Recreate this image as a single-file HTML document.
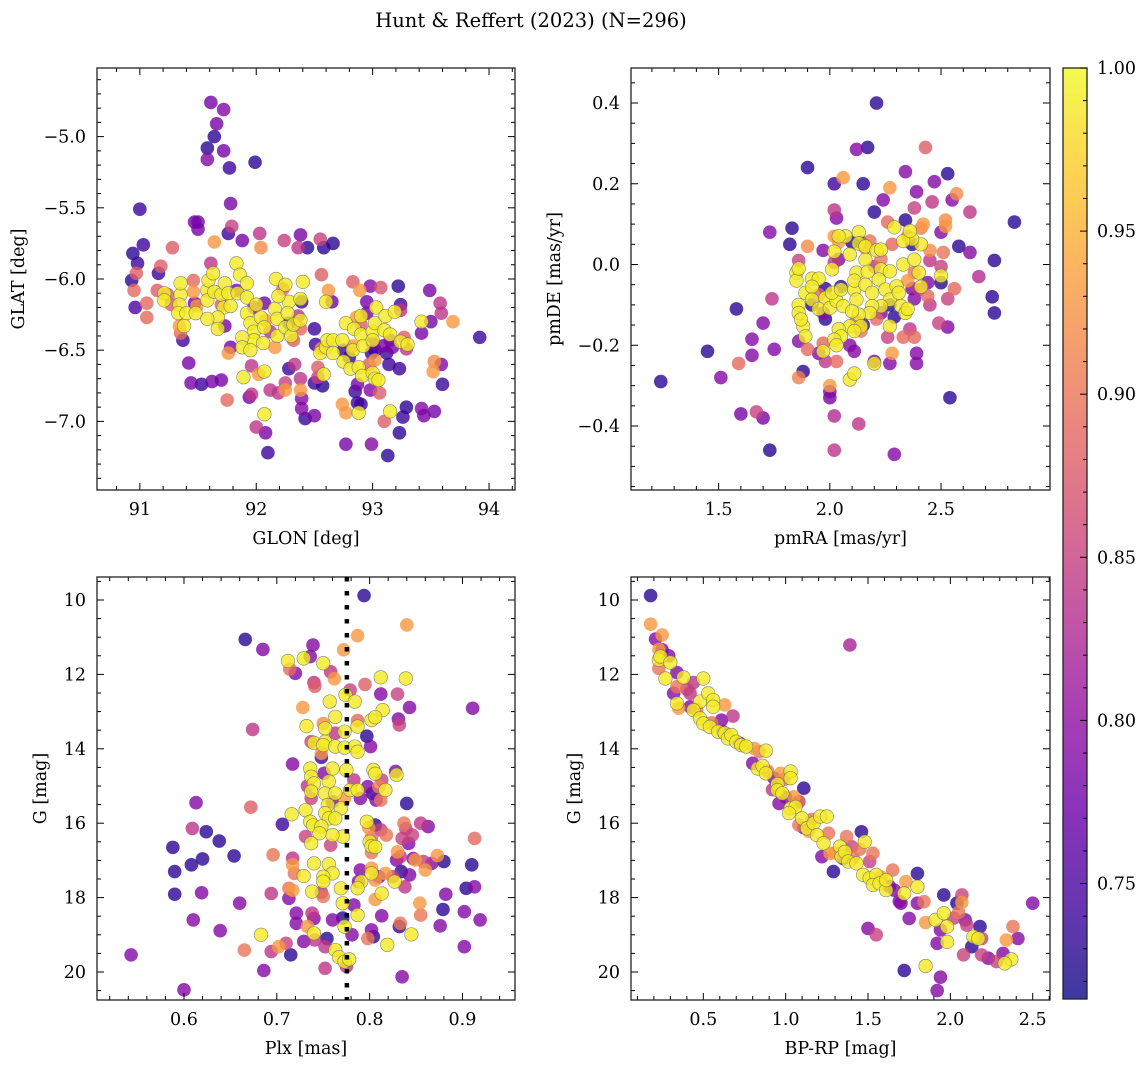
<!DOCTYPE html>
<html><head><meta charset="utf-8"><style>
html,body{margin:0;padding:0;background:#fff;}
svg{display:block;font-family:"DejaVu Serif","Liberation Serif",serif;}
</style></head><body>
<svg id="fig" width="1148" height="1067" viewBox="0 0 1148 1067" xmlns="http://www.w3.org/2000/svg">
<rect width="1148" height="1067" fill="#fff"/>
<text x="531" y="27" font-size="19.5" text-anchor="middle">Hunt &amp; Reffert (2023) (N=296)</text>
<defs><linearGradient id="cbgrad" x1="0" y1="1" x2="0" y2="0"></linearGradient></defs>
</svg>
<script>
// ---- Panel 1: GLON / GLAT ----
const glon=[91.61,91.72,91.66,91.64,91.58,91.72,91.58,91.77,91.99,91.0,91.78,91.47,91.50,91.50,91.79,91.76,91.64,91.88,92.03,92.24,92.38,92.55,92.66,91.03,90.94,91.28,92.04,92.36,92.44,92.58,90.98,90.97,91.18,91.16,90.93,91.46,92.56,92.83,93.22,93.07,92.98,90.95,91.15,91.06,90.96,91.06,93.49,93.58,93.59,93.69,93.42,93.50,93.92,93.42,93.60,93.53,93.59,93.52,93.53,93.42,93.44,93.29,93.26,93.23,93.13,92.99,92.77,93.10,93.15,93.23,93.14,93.12,93.15,93.24,93.24,92.89,92.95,92.42,92.39,92.39,92.38,92.38,92.50,92.57,92.53,92.58,92.25,92.25,92.19,92.12,92.07,92.02,91.96,91.94,91.96,91.89,91.75,91.70,91.62,91.53,91.44,91.42,92.0,92.08,92.10,92.07,92.50,92.74,92.77,92.88,92.85,92.87,92.90,92.87,92.98,93.06,92.28,92.33,92.53,
91.21,91.21,91.35,91.35,91.34,91.33,91.40,91.38,91.48,91.58,91.59,91.63,91.58,91.64,91.70,91.72,91.67,91.67,91.58,91.73,91.76,91.78,91.83,91.86,91.84,91.92,91.92,91.92,92.0,91.95,91.98,91.98,91.88,91.88,91.95,92.04,92.07,92.06,92.16,92.18,92.18,92.25,92.28,92.27,92.19,92.30,92.32,92.38,92.38,92.40,92.17,92.25,92.55,92.60,92.61,92.66,92.66,92.75,92.74,92.77,92.83,92.84,92.90,92.90,92.92,93.0,93.0,93.02,93.03,93.10,93.11,93.15,93.19,93.24,93.30,92.81,92.88,92.91,93.0,93.02,93.05,92.60,
91.24,91.27,91.34,91.35,91.37,91.46,91.47,91.49,91.61,91.70,91.73,91.78,91.76,91.83,91.98,92.07,92.08,92.12,92.16,92.23,92.28,92.32,92.36,92.38,92.39,92.50,92.51,92.56,92.62,92.65,92.75,92.80,92.83,92.86,92.90,92.95,92.99,93.0,93.02,93.09,93.17,93.27,93.29,93.02,92.97];
const glat=[-4.76,-4.81,-4.91,-5.0,-5.08,-5.10,-5.16,-5.22,-5.18,-5.51,-5.47,-5.60,-5.60,-5.65,-5.63,-5.68,-5.74,-5.73,-5.68,-5.73,-5.69,-5.72,-5.75,-5.76,-5.82,-5.78,-5.78,-5.78,-5.78,-5.78,-5.89,-5.96,-5.91,-5.96,-6.01,-6.01,-5.97,-6.02,-6.05,-6.06,-6.05,-6.08,-6.08,-6.17,-6.20,-6.27,-6.08,-6.17,-6.24,-6.30,-6.30,-6.30,-6.41,-6.38,-6.74,-6.58,-6.60,-6.65,-6.93,-6.91,-6.96,-6.90,-6.97,-7.08,-7.24,-7.16,-7.16,-7.0,-6.93,-6.63,-6.60,-6.52,-6.43,-6.18,-6.22,-6.08,-6.24,-6.98,-6.91,-6.84,-6.78,-6.70,-6.73,-6.75,-6.69,-6.67,-6.73,-6.78,-6.80,-6.78,-6.65,-6.67,-6.61,-6.83,-6.81,-6.69,-6.85,-6.71,-6.72,-6.74,-6.73,-6.59,-7.04,-7.08,-7.22,-6.95,-6.96,-6.88,-6.94,-6.94,-6.79,-6.87,-6.88,-6.74,-6.78,-6.80,-6.63,-6.60,-6.62,
-6.10,-6.15,-6.11,-6.03,-6.18,-6.24,-6.24,-6.33,-6.24,-6.08,-6.01,-5.96,-6.15,-6.09,-6.11,-6.20,-6.27,-6.35,-6.28,-6.03,-6.10,-6.19,-5.89,-5.97,-6.10,-6.03,-6.13,-6.24,-6.18,-6.31,-6.37,-6.43,-6.41,-6.48,-6.50,-6.27,-6.34,-6.45,-6.21,-6.28,-6.40,-6.34,-6.16,-6.24,-6.12,-6.40,-6.32,-6.29,-6.14,-6.02,-6.0,-6.04,-6.52,-6.48,-6.43,-6.43,-6.52,-6.58,-6.43,-6.31,-6.50,-6.35,-6.26,-6.39,-6.47,-6.37,-6.43,-6.31,-6.20,-6.36,-6.26,-6.39,-6.23,-6.44,-6.46,-6.63,-6.62,-6.68,-6.66,-6.70,-6.71,-6.16,
-6.11,-6.18,-6.33,-6.38,-6.43,-6.09,-6.17,-6.19,-5.89,-6.18,-6.33,-6.48,-6.52,-6.08,-6.20,-6.17,-6.29,-6.37,-6.48,-6.07,-6.31,-6.43,-6.26,-6.35,-6.16,-6.35,-6.46,-6.49,-6.08,-6.16,-6.50,-6.55,-6.47,-6.27,-6.32,-6.16,-6.52,-6.45,-6.50,-6.47,-6.48,-6.41,-6.49,-6.57,-6.60];
const prob1=[0.78,0.79,0.78,0.73,0.73,0.78,0.79,0.74,0.73,0.74,0.78,0.78,0.78,0.78,0.85,0.74,0.93,0.78,0.84,0.85,0.78,0.85,0.73,0.74,0.73,0.88,0.92,0.84,0.73,0.73,0.74,0.88,0.88,0.74,0.73,0.89,0.88,0.88,0.73,0.87,0.79,0.89,0.88,0.89,0.75,0.89,0.78,0.84,0.84,0.93,0.99,0.78,0.74,0.78,0.74,0.92,0.79,0.93,0.78,0.79,0.78,0.73,0.74,0.73,0.73,0.79,0.78,0.88,0.99,0.74,0.74,0.74,0.79,0.74,0.84,0.93,0.78,0.74,0.79,0.79,0.93,0.84,0.74,0.73,0.85,0.99,0.85,0.93,0.84,0.84,0.99,0.93,0.84,0.78,0.84,0.99,0.89,0.78,0.78,0.74,0.78,0.78,0.84,0.78,0.74,0.99,0.78,0.93,0.93,0.99,0.74,0.74,0.74,0.78,0.79,0.88,0.74,0.84,0.88,
0.99,0.99,0.99,0.99,0.99,0.99,0.99,0.99,0.99,0.99,0.99,0.99,0.99,0.99,0.99,0.99,0.99,0.99,0.99,0.99,0.99,0.99,0.99,0.99,0.99,0.99,0.99,0.99,0.99,0.99,0.99,0.99,0.99,0.99,0.99,0.99,0.99,0.99,0.99,0.99,0.99,0.99,0.99,0.99,0.99,0.99,0.99,0.99,0.99,0.99,0.99,0.99,0.99,0.99,0.99,0.99,0.99,0.99,0.99,0.99,0.99,0.99,0.99,0.99,0.99,0.99,0.99,0.99,0.99,0.99,0.99,0.99,0.99,0.99,0.99,0.99,0.99,0.99,0.99,0.99,0.99,0.99,
0.88,0.88,0.93,0.89,0.74,0.93,0.78,0.93,0.84,0.88,0.78,0.78,0.93,0.78,0.79,0.78,0.93,0.84,0.93,0.88,0.74,0.88,0.84,0.89,0.74,0.74,0.74,0.93,0.93,0.78,0.74,0.74,0.93,0.93,0.88,0.78,0.74,0.78,0.74,0.78,0.78,0.88,0.84,0.93,0.88];

// ---- Panel 2: pmRA / pmDE ----
const pmra=[2.21,2.12,2.17,2.43,1.90,2.02,2.06,2.15,2.34,2.53,2.27,2.47,2.39,2.57,2.24,2.55,2.46,2.02,2.03,2.20,2.38,2.63,2.83,2.42,2.52,2.52,2.26,2.34,1.83,1.73,1.82,1.90,2.50,2.58,2.63,2.74,2.67,2.56,2.53,2.73,2.74,2.49,2.53,1.74,1.58,1.70,1.65,1.75,1.45,1.65,1.59,1.24,1.51,1.88,1.86,2.0,2.0,2.0,2.54,1.60,1.67,1.70,2.02,2.13,1.73,2.02,2.29,2.20,2.27,2.28,2.39,2.39,2.33,2.38,2.36,2.26,1.95,1.98,2.03,1.90,1.86,2.09,2.11,1.97,2.45,2.44,2.40,2.44,2.50,2.51,2.50,2.45,2.45,2.41,2.35,2.37,2.28,2.23,2.20,2.16,2.18,2.14,2.10,2.02,2.04,2.02,2.04,1.97,1.86,2.05,1.98,1.95,1.92,1.98,1.97,2.12,2.15,2.14,2.21,2.23,2.27,2.29,2.38,2.37,2.35,2.38,
2.09,2.11,2.20,1.85,1.85,1.86,1.92,1.95,1.89,1.92,1.86,1.86,1.92,1.98,1.95,2.0,2.03,2.06,2.01,2.05,2.11,2.12,2.11,2.16,2.13,2.09,2.13,2.07,2.04,2.01,2.02,2.16,2.21,2.23,2.29,2.33,2.38,2.41,2.37,2.33,2.36,2.50,2.40,2.41,2.23,2.27,2.22,2.17,2.16,2.19,2.25,2.30,2.27,2.31,2.32,2.34,2.35,2.27,2.23,2.19,2.18,2.12,2.13,2.10,2.09,2.14,2.11,2.04,2.05,2.02,2.03,1.97,1.88,1.89,1.87];
const pmde=[0.40,0.285,0.29,0.29,0.24,0.20,0.215,0.20,0.23,0.225,0.19,0.205,0.18,0.175,0.16,0.16,0.155,0.135,0.115,0.13,0.14,0.13,0.105,0.10,0.11,0.095,0.105,0.11,0.09,0.08,0.05,0.045,0.08,0.045,0.03,0.01,-0.03,-0.06,-0.085,-0.08,-0.12,-0.145,-0.155,-0.085,-0.11,-0.145,-0.185,-0.21,-0.215,-0.225,-0.245,-0.29,-0.28,-0.265,-0.28,-0.30,-0.315,-0.33,-0.33,-0.37,-0.365,-0.38,-0.375,-0.395,-0.46,-0.46,-0.47,-0.24,-0.245,-0.22,-0.22,-0.245,-0.18,-0.18,-0.16,-0.18,-0.22,-0.24,-0.24,-0.21,-0.19,-0.20,-0.215,-0.195,-0.10,-0.078,-0.062,-0.045,-0.045,0.03,-0.005,0.01,0.035,0.09,0.07,0.05,0.05,0.013,-0.005,0.04,0.058,0.055,0.055,0.07,0.055,0.005,0.013,0.035,0.01,-0.055,-0.06,-0.075,-0.10,-0.135,-0.12,-0.14,-0.15,-0.165,-0.135,-0.12,-0.10,-0.13,-0.085,-0.06,-0.04,-0.02,
-0.285,-0.27,-0.245,-0.02,-0.04,-0.01,-0.035,-0.035,-0.07,-0.055,-0.10,-0.12,-0.087,-0.083,-0.11,-0.108,-0.09,-0.103,-0.07,-0.062,-0.062,-0.02,-0.04,0.012,0.08,0.025,0.052,0.07,0.07,-0.012,0.032,0.045,0.035,0.037,0.092,0.0,0.012,0.05,0.063,0.058,0.083,-0.028,-0.02,-0.055,-0.012,-0.017,-0.037,-0.018,-0.05,-0.07,-0.062,-0.054,-0.087,-0.07,-0.103,-0.12,-0.11,-0.153,-0.103,-0.103,-0.12,-0.087,-0.124,-0.116,-0.153,-0.153,-0.165,-0.16,-0.178,-0.186,-0.20,-0.215,-0.153,-0.178,-0.136];
const prob2=[0.73,0.79,0.73,0.88,0.73,0.74,0.93,0.73,0.79,0.73,0.93,0.79,0.79,0.92,0.79,0.79,0.84,0.84,0.79,0.73,0.85,0.84,0.73,0.93,0.92,0.93,0.89,0.73,0.73,0.79,0.73,0.92,0.79,0.73,0.79,0.73,0.83,0.89,0.85,0.73,0.73,0.85,0.79,0.84,0.73,0.79,0.79,0.79,0.73,0.79,0.89,0.73,0.79,0.73,0.91,0.93,0.79,0.78,0.73,0.78,0.85,0.78,0.83,0.84,0.73,0.84,0.79,0.79,0.79,0.93,0.79,0.79,0.89,0.89,0.84,0.85,0.79,0.84,0.89,0.89,0.79,0.79,0.79,0.89,0.84,0.89,0.84,0.79,0.73,0.90,0.85,0.84,0.92,0.91,0.90,0.73,0.89,0.90,0.84,0.93,0.90,0.73,0.73,0.93,0.93,0.84,0.79,0.79,0.85,0.73,0.73,0.89,0.73,0.73,0.79,0.90,0.73,0.90,0.89,0.79,0.73,0.73,0.79,0.79,0.93,0.90,
0.99,0.99,0.99,0.99,0.99,0.99,0.99,0.99,0.99,0.99,0.99,0.99,0.99,0.99,0.99,0.99,0.99,0.99,0.99,0.99,0.99,0.99,0.99,0.99,0.99,0.99,0.99,0.99,0.99,0.99,0.99,0.99,0.99,0.99,0.99,0.99,0.99,0.99,0.99,0.99,0.99,0.99,0.99,0.99,0.99,0.99,0.99,0.99,0.99,0.99,0.99,0.99,0.99,0.99,0.99,0.99,0.99,0.99,0.99,0.99,0.99,0.99,0.99,0.99,0.99,0.99,0.99,0.99,0.99,0.99,0.99,0.99,0.99,0.99,0.99];

// ---- Panel 3: Plx / G ----
const plx=[0.794,0.787,0.840,0.772,0.666,0.685,0.739,0.736,0.712,0.729,0.750,0.714,0.720,0.758,0.762,0.740,0.741,0.795,0.812,0.839,0.812,0.830,0.779,0.774,0.843,0.911,0.728,0.757,0.784,0.814,0.763,0.802,0.806,0.831,0.832,0.787,0.750,0.752,0.732,0.787,0.674,0.773,0.763,0.797,0.737,0.740,0.752,0.750,0.763,0.748,0.773,0.784,0.787,0.801,0.748,0.717,0.736,0.760,0.751,0.775,0.804,0.806,0.813,0.828,0.829,0.737,0.740,0.737,0.733,0.756,0.783,0.779,0.787,0.798,0.803,0.817,0.810,0.752,0.763,0.737,0.790,0.807,0.812,0.760,0.755,0.769,0.773,0.840,0.672,0.613,0.731,0.716,0.752,0.756,0.736,0.739,0.748,0.763,0.771,0.760,0.746,0.737,0.758,0.731,0.797,0.799,0.806,0.812,0.818,0.802,0.800,0.802,0.802,0.806,0.837,0.839,0.835,0.842,0.846,0.855,0.863,0.913,0.830,0.833,0.849,0.858,0.873,0.706,0.696,0.609,0.624,0.638,0.654,0.588,0.608,0.620,0.590,0.590,0.619,0.660,0.610,0.639,0.543,0.600,0.694,0.717,0.717,0.719,0.729,0.713,0.717,0.740,0.756,0.760,0.750,0.750,0.738,0.750,0.769,0.790,0.788,0.791,0.787,0.802,0.802,0.806,0.810,0.813,0.806,0.817,0.825,0.827,0.834,0.838,0.829,0.843,0.860,0.867,0.847,0.880,0.882,0.910,0.913,0.904,0.919,0.902,0.902,0.879,0.876,0.854,0.855,0.845,0.833,0.832,0.813,0.819,0.835,0.804,0.802,0.798,0.787,0.783,0.781,0.771,0.771,0.773,0.760,0.754,0.752,0.752,0.763,0.767,0.773,0.778,0.775,0.740,0.738,0.740,0.741,0.729,0.733,0.721,0.721,0.710,0.702,0.715,0.694,0.686,0.665,0.683,0.713,0.748,0.716];
const gmag3=[9.88,10.96,10.67,11.34,11.06,11.33,11.21,11.52,11.64,11.57,11.70,11.86,11.97,11.93,12.12,12.22,12.32,12.27,12.08,12.11,12.53,12.53,12.42,12.55,12.89,12.91,12.89,12.73,12.73,12.96,13.14,13.23,13.15,13.20,13.36,13.24,13.32,13.45,13.39,13.40,13.48,13.54,13.58,13.66,13.81,13.84,13.81,13.90,13.94,14.12,13.97,13.94,14.08,13.94,14.23,14.41,14.53,14.53,14.66,14.57,14.57,14.67,14.84,14.61,14.70,14.75,14.93,15.15,15.0,14.88,14.84,15.11,15.11,15.02,15.20,15.11,15.02,15.20,15.20,15.33,15.33,15.38,15.38,15.42,15.51,15.60,15.33,15.47,15.57,15.45,15.65,15.76,15.73,15.87,15.96,16.06,16.09,15.87,16.36,16.32,16.27,16.54,16.59,16.36,15.96,16.12,16.05,16.18,16.32,16.38,16.50,16.79,16.62,16.64,16.0,16.15,16.41,16.54,16.32,16.0,16.09,16.41,16.77,16.90,16.99,17.03,16.87,16.03,16.85,16.14,16.23,16.48,16.88,16.65,17.12,16.96,17.30,17.91,17.87,18.15,18.60,18.89,19.54,20.48,17.89,16.94,17.12,17.35,17.42,17.75,17.80,17.08,17.10,17.35,17.44,17.57,17.84,17.97,17.75,17.26,17.57,17.57,17.75,17.21,17.35,17.53,17.44,17.89,18.05,17.35,17.44,17.57,17.30,17.71,16.99,17.39,17.26,17.08,16.95,17.03,17.91,17.12,17.71,17.75,18.60,18.38,19.32,18.32,18.76,18.15,18.47,18.99,18.69,18.78,18.49,19.27,20.13,19.05,18.87,19.10,18.47,18.20,19.0,18.55,18.15,18.78,18.60,19.10,19.32,19.90,19.41,19.60,19.72,19.66,19.85,18.56,18.42,18.96,19.14,19.18,18.78,18.42,18.69,19.23,19.32,19.54,19.45,19.96,19.41,19.0,18.02,17.86];
const prob3=[0.73,0.93,0.93,0.93,0.73,0.79,0.79,0.79,0.99,0.99,0.99,0.89,0.79,0.84,0.93,0.84,0.88,0.88,0.99,0.99,0.79,0.85,0.85,0.99,0.79,0.79,0.93,0.99,0.99,0.99,0.99,0.99,0.99,0.79,0.85,0.89,0.92,0.99,0.99,0.99,0.84,0.99,0.84,0.73,0.85,0.99,0.99,0.99,0.99,0.93,0.99,0.99,0.99,0.79,0.74,0.79,0.99,0.99,0.79,0.99,0.99,0.99,0.85,0.79,0.99,0.99,0.99,0.99,0.84,0.99,0.84,0.99,0.99,0.79,0.73,0.99,0.91,0.99,0.99,0.85,0.79,0.79,0.90,0.79,0.99,0.99,0.93,0.73,0.88,0.79,0.99,0.99,0.99,0.99,0.99,0.99,0.99,0.99,0.99,0.99,0.99,0.99,0.85,0.85,0.99,0.93,0.73,0.85,0.90,0.89,0.99,0.90,0.99,0.99,0.90,0.85,0.85,0.79,0.85,0.84,0.79,0.89,0.93,0.84,0.93,0.85,0.93,0.74,0.90,0.84,0.73,0.73,0.73,0.73,0.73,0.73,0.73,0.73,0.79,0.79,0.79,0.79,0.79,0.79,0.84,0.84,0.93,0.90,0.99,0.90,0.93,0.99,0.99,0.99,0.99,0.99,0.99,0.90,0.99,0.79,0.79,0.99,0.99,0.93,0.99,0.93,0.79,0.99,0.93,0.93,0.85,0.99,0.73,0.84,0.79,0.79,0.93,0.79,0.79,0.73,0.79,0.73,0.79,0.73,0.79,0.79,0.79,0.73,0.79,0.93,0.90,0.99,0.90,0.73,0.79,0.99,0.79,0.73,0.79,0.90,0.99,0.79,0.79,0.73,0.99,0.99,0.79,0.73,0.84,0.84,0.99,0.99,0.99,0.99,0.84,0.79,0.84,0.99,0.84,0.79,0.93,0.79,0.79,0.85,0.93,0.73,0.84,0.79,0.90,0.99,0.79,0.84,0.93,0.99,0.79,0.85,0.90,0.99];

// ---- Panel 4: BP-RP / G ----
const bprp=[0.18,0.18,0.21,0.25,0.23,0.25,0.29,0.23,0.24,0.30,0.23,0.34,0.27,0.38,0.50,0.44,0.32,0.34,0.34,0.35,0.42,0.42,0.48,0.53,0.56,0.56,0.63,0.68,0.44,0.48,0.50,0.54,0.55,0.61,0.59,0.63,0.65,0.67,0.70,0.73,0.76,0.81,0.84,0.88,0.80,0.83,0.86,0.88,0.93,0.97,1.03,1.03,0.99,0.95,0.95,0.98,0.92,0.96,1.11,1.05,1.08,1.03,1.06,1.08,1.02,1.10,1.13,1.08,1.11,1.17,1.16,1.21,1.25,1.19,1.23,1.26,1.22,1.27,1.29,1.33,1.34,1.36,1.37,1.40,1.38,1.43,1.41,1.46,1.48,1.53,1.51,1.47,1.51,1.55,1.53,1.57,1.61,1.61,1.65,1.66,1.73,1.72,1.70,1.75,1.80,1.80,1.80,1.84,1.85,1.91,1.96,1.96,1.94,1.92,1.98,1.98,2.04,2.07,2.07,2.09,2.10,2.08,2.14,2.18,2.17,2.19,2.13,2.19,2.23,2.28,2.32,2.37,2.33,2.34,2.38,2.41,2.50,1.85,1.72,1.94,1.92,1.50,1.55,1.39,1.58,1.35,1.14,1.00,0.89,0.72,0.62,0.46,0.40,1.30,1.45,1.63,1.69,2.02,2.05];
const gmag4=[9.88,10.65,11.05,10.94,11.33,11.34,11.50,11.61,11.52,11.68,11.84,11.95,12.11,12.08,12.11,12.22,12.51,12.33,12.78,12.91,12.51,12.87,12.73,12.51,12.69,12.87,12.82,13.12,12.96,13.18,13.32,13.41,13.30,13.23,13.54,13.58,13.72,13.63,13.81,13.90,13.94,13.99,14.08,14.05,14.39,14.53,14.46,14.66,14.79,14.66,14.61,14.79,14.82,14.95,15.11,15.20,15.10,15.47,15.06,15.29,15.42,15.60,15.56,15.43,15.73,15.87,16.14,16.05,16.12,16.0,15.90,15.82,15.82,16.32,16.54,16.27,16.90,16.81,17.30,16.63,16.90,16.77,16.36,16.63,17.03,17.08,16.94,16.23,16.50,16.81,17.03,17.39,17.48,17.39,17.66,17.62,17.80,17.53,17.26,17.80,17.57,17.89,18.15,18.56,18.15,17.35,17.71,18.11,18.67,18.60,17.93,18.42,18.87,19.23,18.78,19.19,18.15,17.93,18.13,18.60,18.74,19.54,19.05,18.78,19.10,19.54,19.32,19.10,19.63,19.72,19.50,19.66,19.77,19.14,18.78,19.10,18.15,19.84,19.96,20.14,20.50,18.83,19.00,11.21,17.45,16.95,16.22,15.30,14.60,13.85,13.55,12.95,12.40,16.80,16.70,17.70,18.10,18.55,18.40];
const prob4=[0.73,0.93,0.79,0.93,0.93,0.79,0.79,0.99,0.99,0.99,0.90,0.79,0.99,0.99,0.99,0.84,0.79,0.90,0.99,0.93,0.84,0.79,0.99,0.99,0.99,0.99,0.93,0.84,0.99,0.99,0.99,0.99,0.90,0.79,0.99,0.99,0.99,0.99,0.99,0.99,0.99,0.93,0.90,0.99,0.79,0.99,0.99,0.99,0.79,0.93,0.99,0.99,0.90,0.99,0.99,0.99,0.84,0.79,0.73,0.93,0.79,0.99,0.99,0.90,0.99,0.99,0.99,0.90,0.79,0.99,0.90,0.99,0.99,0.99,0.99,0.90,0.79,0.93,0.73,0.99,0.99,0.99,0.90,0.85,0.99,0.99,0.90,0.73,0.99,0.90,0.85,0.99,0.99,0.99,0.99,0.99,0.99,0.99,0.90,0.79,0.93,0.99,0.79,0.79,0.79,0.73,0.99,0.90,0.93,0.99,0.73,0.99,0.79,0.79,0.99,0.99,0.73,0.85,0.93,0.79,0.85,0.85,0.99,0.73,0.99,0.85,0.73,0.85,0.79,0.85,0.79,0.99,0.99,0.93,0.90,0.79,0.79,0.99,0.73,0.79,0.79,0.79,0.85,0.82,0.93,0.79,0.93,0.79,0.90,0.73,0.79,0.90,0.85,0.93,0.90,0.79,0.79,0.85,0.90,0.79,0.93,0.85,0.79,0.90];

// ---- Colorbar / reference line data ----
const cbTicks=[0.75,0.80,0.85,0.90,0.95,1.00];
const cbRange=[0.7146,1.0];
const plxRef=[0.7755];

const NS='http://www.w3.org/2000/svg';
const svg=document.getElementById('fig');
function el(tag,attrs,parent){const e=document.createElementNS(NS,tag);for(const k in attrs)e.setAttribute(k,attrs[k]);(parent||svg).appendChild(e);return e;}
const plasma=[[13,8,135],[65,4,157],[106,0,168],[143,13,164],[177,42,144],[204,71,120],[225,100,98],[242,132,75],[252,166,54],[252,206,37],[240,249,33]];
function cmap(v){if(!isFinite(v))v=0.85;let t=(v-cbRange[0])/(cbRange[1]-cbRange[0]);t=Math.max(0,Math.min(1,t));const f=t*10,i=Math.min(9,Math.floor(f)),r=f-i;const a=plasma[i],b=plasma[i+1];return 'rgb('+[0,1,2].map(k=>Math.round(a[k]+(b[k]-a[k])*r)).join(',')+')';}
function fmt(v,d){const s=Math.abs(v).toFixed(d);return (v<-1e-9&&parseFloat(s)!==0?'\u2212':'')+s;}
const TFS=17.5, LFS=17.5;

function panel(name,box,xlim,ylim,xMaj,xMin,yMaj,yMin,xd,yd,xlab,ylab,xs,ys,ps,ylabX,invertY){
  const [L,T,R,B]=box;
  const g=el('g',{});
  
  
  const X=v=>L+(v-xlim[0])/(xlim[1]-xlim[0])*(R-L);
  const Y=invertY?(v=>T+(v-ylim[0])/(ylim[1]-ylim[0])*(B-T)):(v=>B-(v-ylim[0])/(ylim[1]-ylim[0])*(B-T));
  const cp='clip-'+name;
  const cd=el('clipPath',{id:cp},g);el('rect',{x:L,y:T,width:R-L,height:B-T},cd);
  const pts=el('g',{'clip-path':'url(#'+cp+')'},g);
  
  
  const n=Math.min(xs.length,ys.length);
  const pv=i=>(i<ps.length&&isFinite(ps[i]))?ps[i]:0.85;
  const idx=[];for(let i=0;i<n;i++)idx.push(i);
  idx.sort((a,b)=>pv(a)-pv(b));
  for(const i of idx){
    const c=el('circle',{cx:X(xs[i]),cy:Y(ys[i]),r:6.8,fill:cmap(pv(i)),'fill-opacity':0.8},pts);
    if(pv(i)>=0.97){c.setAttribute('stroke','#666');c.setAttribute('stroke-width','0.6');c.setAttribute('stroke-opacity','0.8');}
    
    
  }
  const tg=el('g',{stroke:'#000','stroke-width':1},g);
  const eps=1e-9;
  const i0=Math.ceil(xlim[0]/xMin-eps),i1=Math.floor(xlim[1]/xMin+eps);
  for(let k=i0;k<=i1;k++){
    const v=k*xMin;const x=X(v);const maj=Math.abs(v/xMaj-Math.round(v/xMaj))<1e-6;const len=maj?7:4;
    el('line',{x1:x,y1:B,x2:x,y2:B-len},tg);el('line',{x1:x,y1:T,x2:x,y2:T+len},tg);
    if(maj){const t=el('text',{x:x,y:B+25,'font-size':TFS,'text-anchor':'middle',stroke:'none',fill:'#000'},g);t.textContent=fmt(v,xd);
      
      }
  }
  const ylo=Math.min(ylim[0],ylim[1]),yhi=Math.max(ylim[0],ylim[1]);
  const j0=Math.ceil(ylo/yMin-eps),j1=Math.floor(yhi/yMin+eps);
  for(let k=j0;k<=j1;k++){
    const v=k*yMin;const y=Y(v);const maj=Math.abs(v/yMaj-Math.round(v/yMaj))<1e-6;const len=maj?7:4;
    el('line',{x1:L,y1:y,x2:L+len,y2:y},tg);el('line',{x1:R,y1:y,x2:R-len,y2:y},tg);
    if(maj){const t=el('text',{x:L-11,y:y+6,'font-size':TFS,'text-anchor':'end',stroke:'none',fill:'#000'},g);t.textContent=fmt(v,yd);
      
      }
  }
  el('rect',{x:L,y:T,width:R-L,height:B-T,fill:'none',stroke:'#222','stroke-width':1.3},g);
  const xl=el('text',{x:(L+R)/2,y:B+54,'font-size':LFS,'text-anchor':'middle'},g);xl.textContent=xlab;
  
  
  const yc=(T+B)/2;
  const yl=el('text',{x:ylabX,y:yc,'font-size':LFS,'text-anchor':'middle',transform:'rotate(-90 '+ylabX+' '+yc+')'},g);yl.textContent=ylab;
  
  
  return {X,Y,g};
}

panel('glon-glat-panel',[97,68,515,490],[90.632,94.223],[-7.482,-4.518],1,0.2,0.5,0.1,0,1,'GLON [deg]','GLAT [deg]',glon,glat,prob1,24,false);
panel('pm-panel',[631,68,1050,490],[1.106,2.99],[-0.5585,0.4867],0.5,0.1,0.2,0.05,1,1,'pmRA [mas/yr]','pmDE [mas/yr]',pmra,pmde,prob2,560,false);
const p3=panel('plx-g-panel',[97,577,515,1000],[0.5063,0.9566],[9.382,20.753],0.1,0.02,2,0.5,1,0,'Plx [mas]','G [mag]',plx,gmag3,prob3,46,true);
panel('cmd-panel',[631,577,1050,1000],[0.061,2.605],[9.382,20.753],0.5,0.1,2,0.5,1,0,'BP-RP [mag]','G [mag]',bprp,gmag4,prob4,580,true);

const ref=el('line',{x1:p3.X(plxRef[0]),y1:577,x2:p3.X(plxRef[0]),y2:1000,stroke:'#000','stroke-width':4.5,'stroke-dasharray':'4.5 9.5'});



const grad=document.getElementById('cbgrad');
for(let k=0;k<=20;k++){const v=cbRange[0]+(cbRange[1]-cbRange[0])*k/20;el('stop',{offset:(k/20),'stop-color':cmap(v),'stop-opacity':0.8},grad);}
const cbL=1063,cbR=1087,cbT=68,cbB=999;
const cb=el('g',{});


el('rect',{x:cbL,y:cbT,width:cbR-cbL,height:cbB-cbT,fill:'url(#cbgrad)'},cb);
el('rect',{x:cbL,y:cbT,width:cbR-cbL,height:cbB-cbT,fill:'none',stroke:'#222','stroke-width':1.3},cb);
const CY=v=>cbB-(v-cbRange[0])/(cbRange[1]-cbRange[0])*(cbB-cbT);
for(let k=72;k<=100;k++){const v=k/100;const y=CY(v);const maj=(k%5===0);el('line',{x1:cbR,y1:y,x2:cbR-(maj?7:4),y2:y,stroke:'#000','stroke-width':1},cb);}
for(const v of cbTicks){const t=el('text',{x:cbR+10,y:CY(v)+6,'font-size':TFS},cb);t.textContent=v.toFixed(2);
  
  }
</script>
</body></html>
